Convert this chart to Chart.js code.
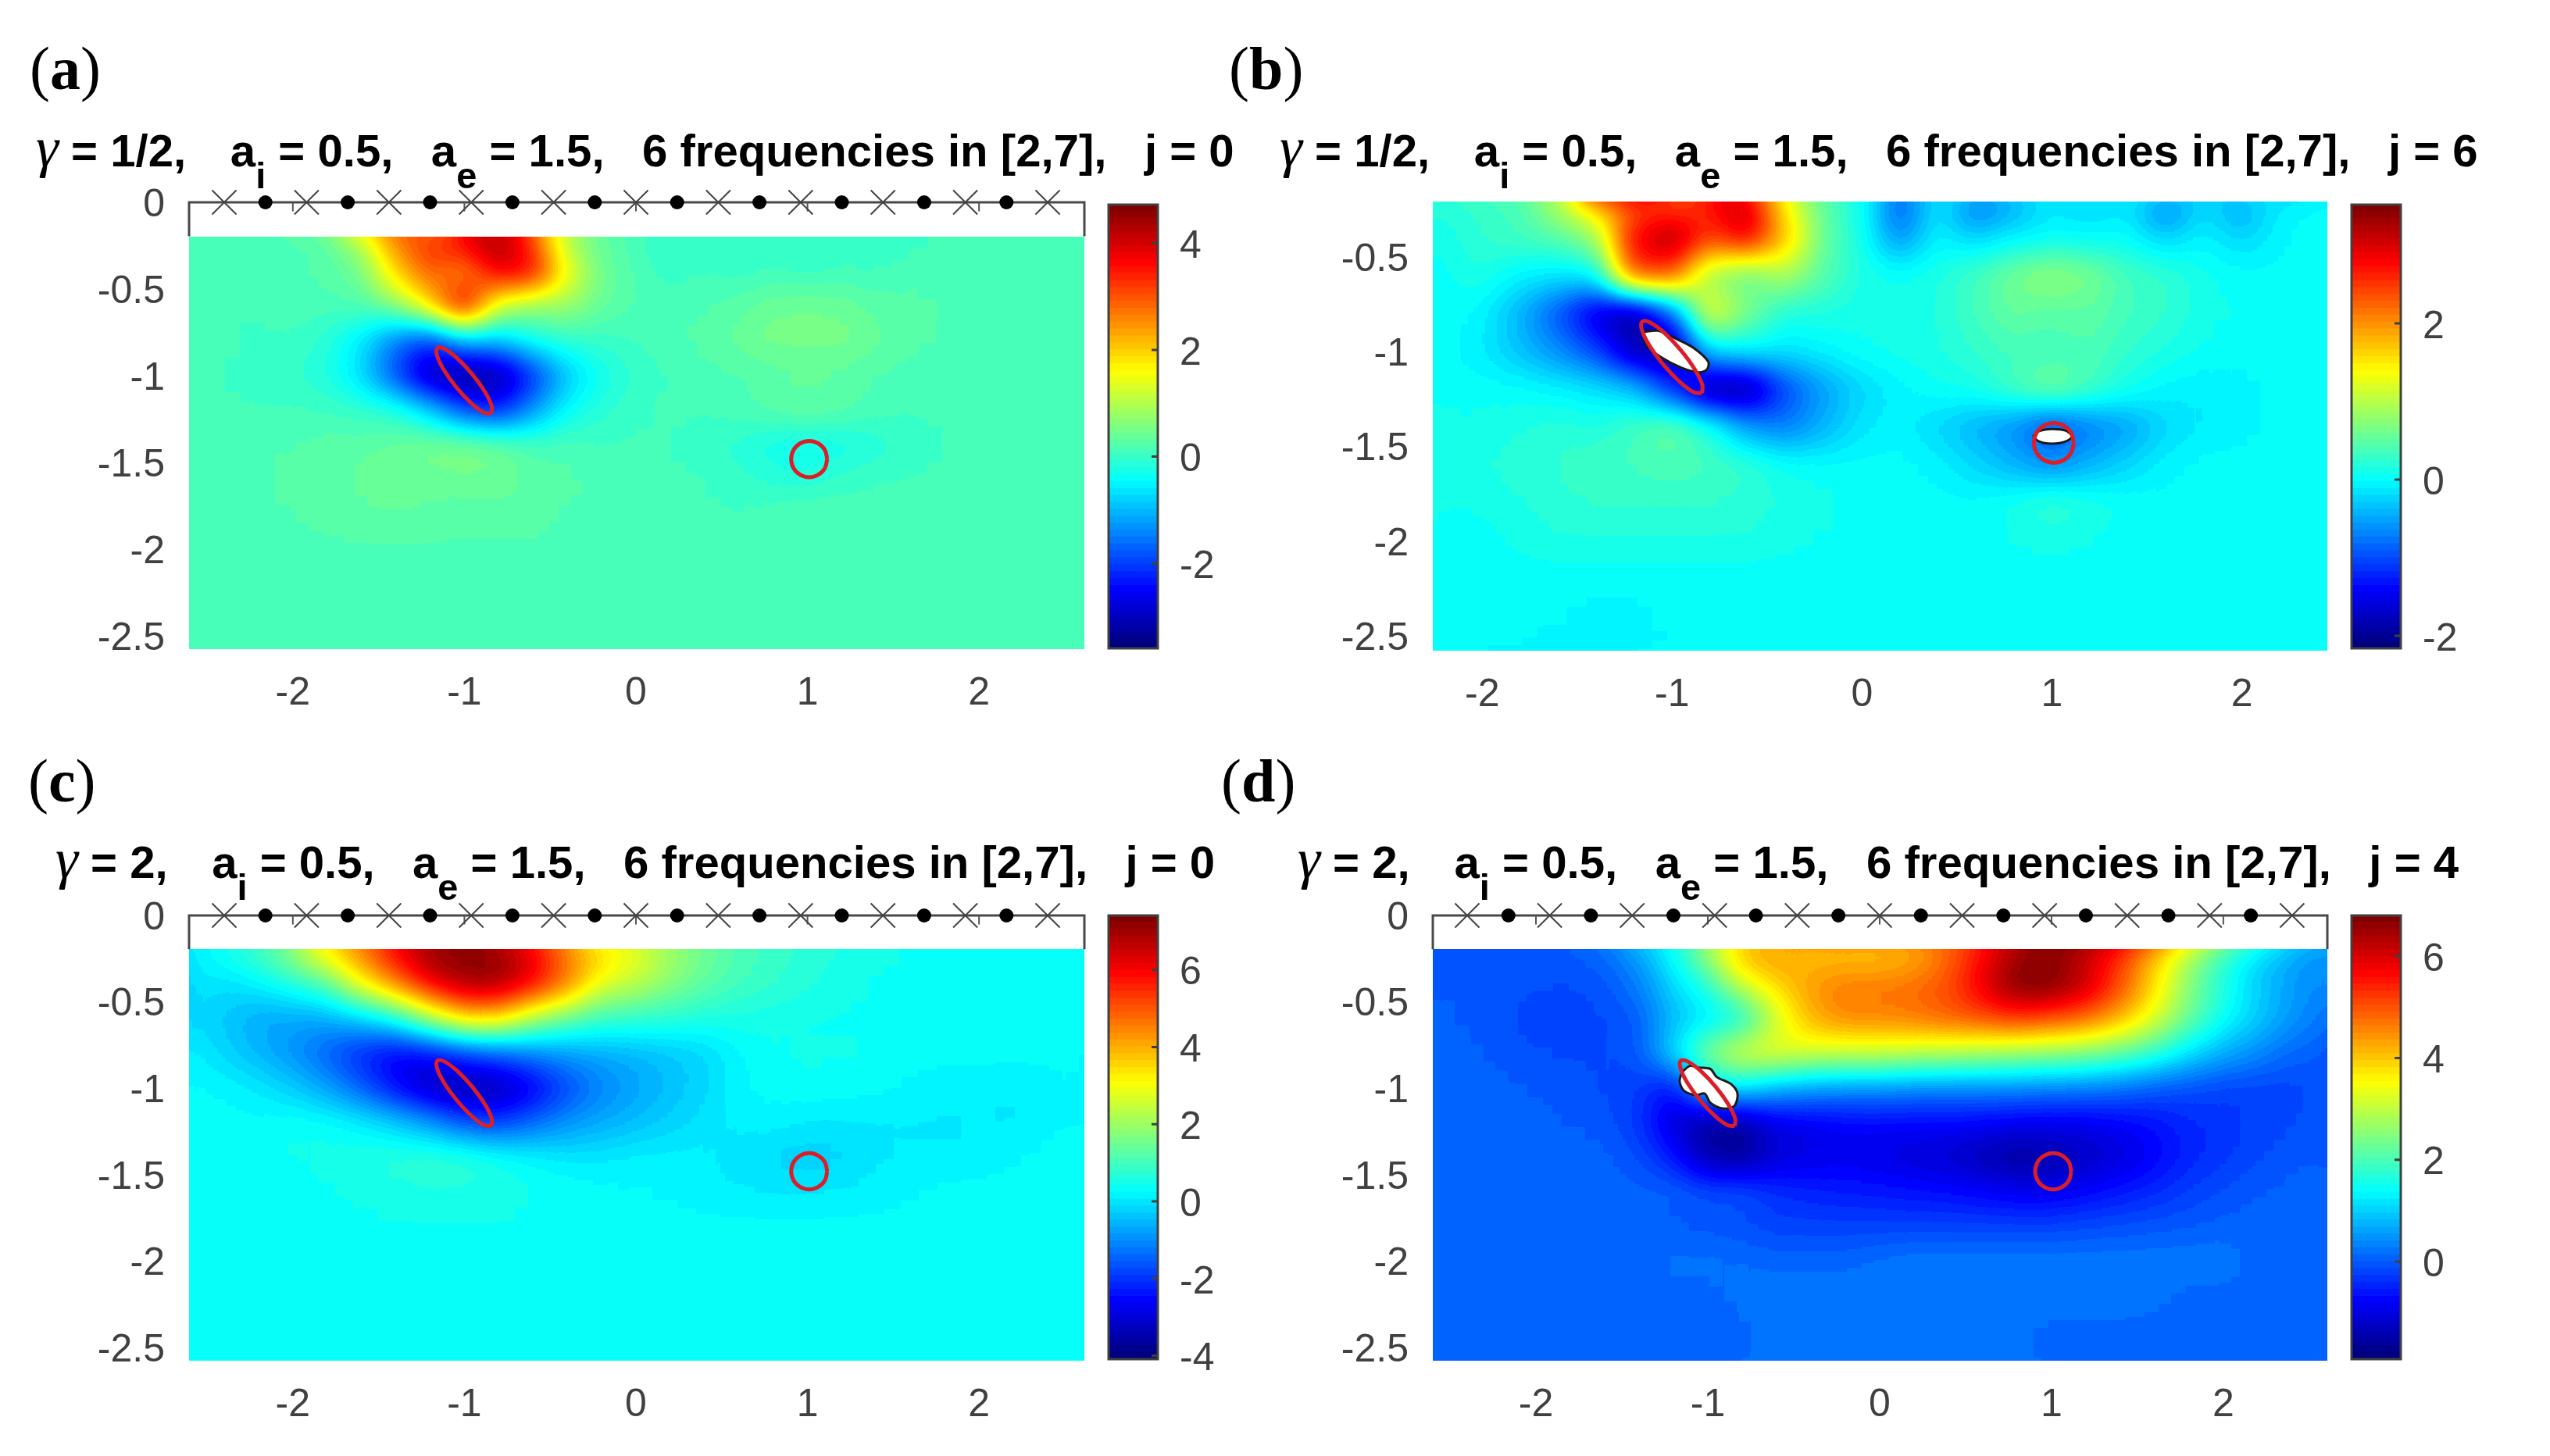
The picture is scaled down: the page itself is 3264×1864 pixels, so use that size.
<!DOCTYPE html>
<html><head><meta charset="utf-8">
<style>
html,body{margin:0;padding:0;background:#fff;width:3264px;height:1864px;overflow:hidden}
canvas{position:absolute;display:block}
.t{position:absolute;white-space:pre;font:bold 57px/60px "Liberation Sans",sans-serif;color:#000;transform-origin:0 0}
.t .g{font:normal 72px/60px "Liberation Serif",serif;font-style:italic}
.t .s{font-size:46px;position:relative;top:28px}
.t .k{margin-right:8px}
.l{position:absolute;font:78px/90px "Liberation Serif",serif;color:#000}
</style>
<script src="https://cdn.jsdelivr.net/npm/chart.js@4/dist/chart.umd.min.js"></script>
</head><body>
<script>
// ---------- cell centres ----------
const colsWide = [-2.6,-2.4,-2.2,-2,-1.8,-1.6,-1.4,-1.2,-1,-.8,-.6,-.4,-.2,0,.2,.4,.6,.8,1,1.2,1.4,1.6,1.8,2,2.2,2.4,2.6];
const colsB = [-2.2,-2,-1.8,-1.6,-1.4,-1.2,-1,-.8,-.6,-.4,-.2,0,.2,.4,.6,.8,1,1.2,1.4,1.6,1.8,2,2.2,2.4];
const rowsY = [-.2,-.4,-.6,-.8,-1,-1.2,-1.4,-1.6,-1.8,-2,-2.2,-2.4,-2.6];
// ---------- field values ----------
const heatA = [
[0,0,.05,.05,.1,.7,2.6,3.6,4.3,5.4,3,.5,.15,0,-.3,-.1,-.3,-.1,-.3,-.1,-.2,-.1,-.1,0,0,0,0],
[0,0,.05,.05,.15,.4,1.9,2.9,2.3,3.8,3.7,1.5,.4,.1,-.1,0,-.1,0,-.1,0,-.05,.05,.05,0,0,0,0],
[0,0,0,.05,.05,.1,.5,1.8,3.9,1.1,.6,.7,.3,.1,.05,.1,.2,.35,.4,.35,.2,.15,.1,.1,.05,0,0],
[0,0,-.05,-.05,-.2,-.7,-1.6,-2.2,-1.1,-1,-.4,-.15,-.1,0,.05,.15,.3,.45,.4,.45,.3,.15,.1,.05,0,0,0],
[0,0,-.1,-.15,-.25,-.8,-2,-3.3,-3.9,-3.5,-2.3,-1,-.4,-.15,0,.05,.1,.15,.25,.2,.1,.05,0,0,0,0,0],
[0,0,0,0,-.05,-.1,-.2,-.9,-2,-2.4,-1.4,-.5,-.2,-.05,0,0,.05,.2,.3,.2,.05,0,0,0,0,0,0],
[0,0,.05,.1,.2,.2,.3,.45,.5,.35,.05,.05,0,0,0,-.1,-.2,-.4,-.45,-.4,-.25,-.1,0,0,0,0,0],
[0,.05,.1,.2,.2,.3,.4,.3,.35,.4,.2,.15,.05,0,0,0,-.1,-.2,-.25,-.1,0,0,0,0,0,0,0],
[0,0,.05,.1,.2,.2,.25,.2,.15,.15,.15,.1,.05,0,0,0,0,.05,.15,.1,0,0,0,0,0,0,0],
[0,0,0,.05,.05,.1,.1,.1,.1,.1,.1,.05,.05,0,0,0,0,0,.05,0,0,0,0,0,0,0,0],
[0,0,0,0,0,0,0,0,0,0,0,0,0,0,0,0,0,0,0,0,0,0,0,0,0,0,0],
[0,0,0,0,0,0,0,0,0,0,0,0,0,0,0,0,0,0,0,0,0,0,0,0,0,0,0],
[0,0,0,0,0,0,0,0,0,0,0,0,0,0,0,0,0,0,0,0,0,0,0,0,0,0,0]];
const heatB = [
[.1,.2,.3,1,1.5,1.8,1.9,2.7,3.5,1.3,.5,0,-1.2,-.2,-1.2,-.8,-.3,-.5,-.3,-1.2,-.3,-.8,-.1,-.05],
[.05,.2,.3,.4,.8,2.8,3.3,2.4,2.8,1.7,.5,.05,-.7,-.1,-.3,-.1,-.05,-.05,-.05,-.3,-.1,-.3,-.1,0],
[0,.1,-.1,-.2,-.1,2.3,2.3,.8,.5,.9,.4,.1,0,.1,.3,.55,.75,.6,.3,.2,.05,-.05,-.05,-.05],
[0,-.1,-.5,-1,-1.7,-2.1,-1,1.3,.6,.1,.1,.05,.05,.1,.3,.5,.4,.45,.3,.2,.05,0,-.05,-.05],
[-.05,-.15,-.4,-.7,-1.1,-1.9,-2.1,-.3,-.1,-.2,-.1,0,.05,.1,.2,.3,.3,.35,.2,.1,0,-.05,-.05,-.05],
[0,-.03,-.05,-.1,-.2,-.4,-1.2,-2.1,-2.1,-1.1,-.6,-.3,-.1,0,.05,.3,.55,.3,.05,-.1,-.15,-.1,-.05,-.05],
[0,.05,.1,.15,.1,.3,.5,.1,-.6,-.8,-.5,-.2,-.1,-.3,-.5,-.7,-1.1,-.8,-.6,-.3,-.15,-.1,-.05,-.05],
[.05,.1,.15,.2,.3,.3,.35,.3,.2,0,-.05,-.05,-.05,-.1,-.3,-.5,-.7,-.5,-.3,-.1,-.05,-.05,-.05,-.05],
[0,.05,.1,.15,.2,.2,.2,.2,.15,.1,.05,0,-.05,-.05,-.05,.05,.2,.1,0,-.05,-.05,-.05,-.05,-.05],
[-.05,-.05,.05,.1,.1,.1,.1,.1,.1,.05,0,-.05,-.05,-.05,-.05,.02,.05,.02,-.05,-.05,-.05,-.05,-.05,-.05],
[-.05,-.05,-.05,-.05,-.05,-.05,-.05,-.05,-.05,-.05,-.05,-.05,-.05,-.05,-.05,-.05,-.05,-.05,-.05,-.05,-.05,-.05,-.05,-.05],
[-.05,-.05,-.05,-.07,-.1,-.1,-.05,-.05,-.05,-.05,-.05,-.05,-.05,-.05,-.05,-.05,-.05,-.05,-.05,-.05,-.05,-.05,-.05,-.05],
[-.1,-.1,-.1,-.1,-.1,-.1,-.1,-.1,-.1,-.1,-.1,-.1,-.1,-.1,-.1,-.1,-.1,-.1,-.1,-.1,-.1,-.1,-.1,-.1]];
const heatC = [
[0,.3,.9,2,3.5,4.6,6.2,7.4,7.41,7.4,6.4,4.6,3.9,3,2,1.3,.9,.6,.4,.3,.2,.1,.05,0,0,0,0],
[-.2,-.4,-.2,.3,.9,2.8,4.2,5.8,6.8,6.8,5.8,4.4,2.5,2.1,1.5,1,.7,.5,.35,.2,.1,.1,.05,0,0,0,0],
[-.3,-.7,-1,-1.1,-1,-.6,.2,1.8,3.3,3.3,1.9,1.1,.6,.5,.4,.3,.25,.2,.1,.1,.1,0,0,0,0,0,0],
[-.1,-.5,-.9,-1.3,-1.9,-2.6,-3.1,-2.9,-2.3,-1.9,-1.5,-1.2,-1,-.9,-.7,-.5,-.1,.1,.15,.15,.1,0,0,0,0,0,0],
[0,-.1,-.3,-.6,-1.1,-1.9,-2.9,-3.8,-4.09,-4,-3.2,-2.2,-1.5,-1.1,-.8,-.5,-.1,0,.1,.05,0,-.1,-.2,-.2,-.25,-.2,0],
[0,0,0,.1,.05,-.2,-.6,-1.2,-2.1,-2.3,-1.8,-1.3,-1,-.8,-.55,-.35,-.2,-.15,-.3,-.3,-.3,-.3,-.3,-.3,-.3,-.15,0],
[0,0,0,.15,.2,.3,.4,.5,.45,.15,-.1,-.3,-.3,-.2,-.2,-.2,-.35,-.5,-.6,-.5,-.3,-.25,-.25,-.2,-.1,0,0],
[0,0,0,0,.1,.2,.25,.3,.3,.3,.15,.1,0,-.05,-.1,-.2,-.25,-.3,-.3,-.25,-.2,-.1,0,0,0,0,0],
[0,0,0,0,0,.05,.1,.1,.1,.1,.05,0,0,0,0,0,0,0,0,0,0,0,0,0,0,0,0],
[0,0,0,0,0,0,0,0,0,0,0,0,0,0,0,0,0,0,0,0,0,0,0,0,0,0,0],
[0,0,0,0,0,0,0,0,0,0,0,0,0,0,0,0,0,0,0,0,0,0,0,0,0,0,0],
[0,0,0,0,0,0,0,0,0,0,0,0,0,0,0,0,0,0,0,0,0,0,0,0,0,0,0],
[0,0,0,0,0,0,0,0,0,0,0,0,0,0,0,0,0,0,0,0,0,0,0,0,0,0,0]];
const heatD = [
[-.05,-.1,-.1,-.05,-.05,0,.4,1.4,2.8,4.6,4.5,3.8,3.5,3.5,3.7,4.5,5.5,6.2,6.4,5.8,5,3.8,2.5,1.5,.9,.4,.1],
[-.05,-.1,-.15,-.2,-.25,-.15,.2,1,1.6,3,3.8,4.3,4.6,4.6,4.7,5,5.8,6.8,6.8,6.2,5.1,3.8,2.5,1.6,.9,.5,.2],
[-.05,-.1,-.2,-.3,-.3,-.25,-.1,.7,1.1,1.4,3,4.1,4.5,4.5,4.6,4.8,5,5.2,5,4.7,4.1,3.2,2.2,1.4,.9,.4,.1],
[0,-.05,-.15,-.2,-.25,-.25,-.15,1,2.4,3.2,3.3,3.1,3,3,2.9,2.8,2.7,2.6,2.5,2.4,2.1,1.7,1.1,.6,.3,0,-.05],
[0,0,-.05,-.1,-.15,-.25,-.35,-.8,1,1.2,.7,.5,.4,.4,.3,.3,.3,.3,.25,.2,.1,-.1,-.2,-.3,-.3,-.3,-.15],
[0,0,0,-.05,-.1,-.15,-.4,-1.2,-1.7,-1.7,-1.1,-1,-.9,-.85,-.85,-.85,-.9,-1,-1,-1,-.9,-.75,-.55,-.45,-.35,-.25,-.1],
[0,0,0,0,0,-.05,-.2,-.7,-1.6,-1.8,-1.2,-1.1,-1,-1.1,-1.2,-1.3,-1.5,-1.7,-1.6,-1.4,-1.2,-.9,-.6,-.4,-.25,-.15,-.05],
[0,0,0,0,0,-.05,-.05,-.05,-.2,-.2,-.5,-.6,-.65,-.7,-.75,-.8,-.9,-1,-1,-.85,-.7,-.55,-.35,-.2,-.1,-.05,0],
[0,0,0,0,0,0,0,-.1,-.15,-.2,-.3,-.3,-.3,-.3,-.3,-.3,-.3,-.3,-.3,-.25,-.2,-.15,-.1,-.05,0,0,0],
[0,0,0,0,0,0,0,.1,.1,.05,0,0,0,.1,.15,.15,.15,.15,.15,.15,.15,.15,.15,.15,0,0,0],
[0,0,0,0,0,0,0,0,0,.1,.15,.15,.15,.15,.15,.15,.15,.15,.15,.15,.15,.1,0,0,0,0,0],
[0,0,0,0,0,0,0,0,0,0,.15,.15,.15,.15,.15,.15,.15,.1,0,0,0,0,0,0,0,0,0],
[0,0,0,0,0,0,0,0,0,0,0,0,0,0,0,0,0,0,0,0,0,0,0,0,0,0,0]];
// ---------- colour ranges and tick labels ----------
const rangeA=[-3.59,4.72], rangeB=[-2.16,3.52], rangeC=[-4.09,7.41], rangeD=[-1.92,6.8];
const fieldRangeC=[-4.4,7.41];
const cbarTicksA=[-2,0,2,4], cbarTicksB=[-2,0,2], cbarTicksC=[-4,-2,0,2,4,6], cbarTicksD=[0,2,4,6];
const xTickValues=[-2,-1,0,1,2];
const yTicksFull=[0,-.5,-1,-1.5,-2,-2.5], yTicksB=[-.5,-1,-1.5,-2,-2.5];
const stripBottomValue=-.196;
// ---------- receivers, sources ----------
const crossX=[-2.4,-1.92,-1.44,-.96,-.48,0,.48,.96,1.44,1.92,2.4];
const dotX=[-2.16,-1.68,-1.2,-.72,-.24,.24,.72,1.2,1.68,2.16];
// ---------- inclusion outlines ----------
const ellipseX=[-.843,-.841,-.8815,-.954,-1.0385,-1.113,-1.157,-1.159,-1.1185,-1.046,-.9615,-.887,-.843];
const ellipseY=[-1.219,-1.175,-1.0915,-.992,-.9025,-.847,-.841,-.885,-.9685,-1.068,-1.1575,-1.213,-1.219];
const circleX=[1.115,1.101,1.062,1.01,.958,.919,.905,.919,.958,1.01,1.062,1.101,1.115];
const circleY=[-1.481,-1.428,-1.39,-1.376,-1.39,-1.428,-1.481,-1.534,-1.572,-1.586,-1.572,-1.534,-1.481];
// ---------- out-of-range (white) holes ----------
const holeB1X=[-1.155,-1.076,-.982,-.888,-.81,-.816,-.857,-.95,-1.06,-1.139,-1.155];
const holeB1Y=[-.897,-.889,-.93,-.979,-1.052,-1.093,-1.109,-1.085,-1.028,-.962,-.897];
const holeB2X=[.9,.93,.97,1,1.04,1.08,1.105,1.08,1.04,1,.96,.925,.9];
const holeB2Y=[-1.447,-1.42,-1.41,-1.408,-1.41,-1.42,-1.447,-1.47,-1.482,-1.485,-1.482,-1.47,-1.447];
const holeDX=[-1.151,-1.105,-1.053,-.984,-.949,-.862,-.827,-.845,-.914,-.984,-1.018,-1.071,-1.14,-1.164,-1.151];
const holeDY=[-.907,-.871,-.88,-.889,-.934,-.978,-1.031,-1.102,-1.117,-1.085,-1.031,-1.04,-1.013,-.96,-.907];

const textGray='#404040', levels=64, blurSigma=20;
const clamp=v=>Math.max(0,Math.min(1,v));
const jet=t=>[clamp(1.5-Math.abs(4*t-3)),clamp(1.5-Math.abs(4*t-2)),clamp(1.5-Math.abs(4*t-1))].map(v=>Math.round(v*255));
const lut=Array.from({length:levels},(_,i)=>jet(i/(levels-1)));
const pts=(xs,ys)=>xs.map((x,i)=>({x,y:ys[i]}));

// The cells are drawn as grey-coded scale positions; this turns them into the smooth filled field.
const fieldPlugin={id:'field',afterDatasetDraw(chart,args){
  if(args.index!==0)return;
  const a=chart.chartArea,o=chart.options.plugins.field,ctx=chart.ctx;
  const top=o.strip?Math.round(chart.scales.y.getPixelForValue(stripBottomValue)):a.top;
  const x0=Math.round(a.left),w=Math.round(a.width),h=Math.round(a.bottom)-top,m=80;
  const mk=()=>{const c=document.createElement('canvas');c.width=w+2*m;c.height=h+2*m;return c;};
  const s1=mk(),c1=s1.getContext('2d');
  c1.drawImage(chart.canvas,x0,top,w,h,0,0,w+2*m,h+2*m);
  c1.drawImage(chart.canvas,x0,top,w,h,m,m,w,h);
  const s2=mk(),c2=s2.getContext('2d',{willReadFrequently:true});
  c2.filter=`blur(${blurSigma}px)`;c2.drawImage(s1,0,0);
  const img=c2.getImageData(m,m,w,h),d=img.data;
  for(let i=0;i<d.length;i+=4){
    const l=Math.min(levels-1,Math.floor(d[i]/255*levels+.5)),c=lut[l];
    d[i]=c[0];d[i+1]=c[1];d[i+2]=c[2];d[i+3]=255;
  }
  ctx.putImageData(img,x0,top);
  if(top>a.top){ctx.fillStyle='#fff';ctx.fillRect(a.left,a.top,a.width,top-a.top);}
}};
const framePlugin={id:'frame',afterDatasetsDraw(chart){
  const a=chart.chartArea,ctx=chart.ctx,y=chart.scales.y;
  ctx.save();ctx.strokeStyle=textGray;ctx.lineWidth=3;
  ctx.strokeRect(a.left,a.top,a.width,a.height);
  ctx.beginPath();
  y.ticks.forEach(t=>{const p=y.getPixelForValue(t.value);ctx.moveTo(a.right,p);ctx.lineTo(a.right-8,p);});
  ctx.stroke();ctx.restore();
}};

function place(w,h,l,t){const c=document.createElement('canvas');c.width=w;c.height=h;c.style.left=l+'px';c.style.top=t+'px';document.body.appendChild(c);return c;}
const tickFont={family:'"Liberation Sans",sans-serif',size:50};

function heatPanel(p){
  const L=210,T=80,R=30,B=110,W=p.right-p.left,H=p.bottom-p.top;
  const canvas=place(W+L+R,H+T+B,p.left-L,p.top-T);
  const cells=[];
  rowsY.forEach((y,r)=>p.cols.forEach((x,c)=>cells.push({x,y,v:p.heat[r][c]})));
  const fr=p.fieldRange||p.range;
  const gray=v=>{const g=Math.round(clamp((v-fr[0])/(fr[1]-fr[0]))*255);return `rgb(${g},${g},${g})`;};
  const ds=[{label:'field',data:cells,order:20,pointStyle:'rect',borderWidth:0,pointBorderWidth:0,
    pointBackgroundColor:c=>gray(c.raw?c.raw.v:0),
    pointRadius:c=>{const s=c.chart.scales.x;return (Math.abs(s.getPixelForValue(.2)-s.getPixelForValue(0))/2+1)*Math.SQRT2;}}];
  (p.holes||[]).forEach(h=>ds.push({label:'hole',data:pts(h[0],h[1]),showLine:true,fill:'shape',backgroundColor:'#fff',borderColor:'#1a1a1a',borderWidth:3,tension:.3,pointRadius:0,order:9}));
  ds.push({label:'ellipse',data:pts(ellipseX,ellipseY),showLine:true,borderColor:'#dc1e28',borderWidth:5,tension:.4,pointRadius:0,order:5});
  ds.push({label:'circle',data:pts(circleX,circleY),showLine:true,borderColor:'#dc1e28',borderWidth:5,tension:.4,pointRadius:0,order:5});
  if(p.strip){
    ds.push({label:'box',data:[{x:p.xMin,y:stripBottomValue},{x:p.xMin,y:0},{x:p.xMax,y:0},{x:p.xMax,y:stripBottomValue}],showLine:true,borderColor:'#484848',borderWidth:3,pointRadius:0,clip:false,order:4});
    ds.push({label:'ticks',data:xTickValues.map(x=>({x,y:-.025})),pointStyle:'line',pointRotation:90,pointRadius:6,pointBorderColor:'#555',pointBorderWidth:2,showLine:false,order:3});
    ds.push({label:'crosses',data:crossX.map(x=>({x,y:0})),pointStyle:'crossRot',pointRadius:22,pointBorderColor:'#444',pointBorderWidth:2,showLine:false,clip:false,order:2});
    ds.push({label:'dots',data:dotX.map(x=>({x,y:0})),pointStyle:'circle',pointRadius:9,pointBackgroundColor:'#000',pointBorderColor:'#000',pointBorderWidth:0,showLine:false,clip:false,order:1});
  }
  new Chart(canvas,{type:'scatter',data:{datasets:ds},plugins:[fieldPlugin],options:{
    responsive:false,animation:false,devicePixelRatio:1,events:[],
    layout:{padding:{left:0,top:T,right:R,bottom:0}},
    plugins:{legend:{display:false},tooltip:{enabled:false},title:{display:false},field:{strip:p.strip}},
    scales:{
      x:{type:'linear',min:p.xMin,max:p.xMax,grid:{display:false},border:{display:false},
        afterFit:s=>{s.height=B;},afterBuildTicks:s=>{s.ticks=xTickValues.map(value=>({value}));},
        ticks:{font:tickFont,color:textGray,padding:19,autoSkip:false,maxRotation:0,callback:v=>String(v)}},
      y:{type:'linear',min:p.yMin,max:p.yMax,grid:{display:false},border:{display:false},
        afterFit:s=>{s.width=L;},afterBuildTicks:s=>{s.ticks=p.yTicks.map(value=>({value}));},
        ticks:{font:tickFont,color:textGray,padding:23,labelOffset:4,autoSkip:false,callback:v=>String(v)}}
    }}});
}
function colorbar(p){
  const L=10,T=70,R=130,B=70,W=p.right-p.left,H=p.bottom-p.top;
  const canvas=place(L+W+R,T+H+B,p.left-L,p.top-T);
  const [lo,hi]=p.range,step=(hi-lo)/levels;
  const ds=lut.map((c,i)=>({data:[[lo+i*step,lo+(i+1)*step+(i<levels-1?step*.1:0)]],backgroundColor:`rgb(${c[0]},${c[1]},${c[2]})`,borderWidth:0,barPercentage:1,categoryPercentage:1,grouped:false}));
  new Chart(canvas,{type:'bar',data:{labels:['colour'],datasets:ds},plugins:[framePlugin],options:{
    responsive:false,animation:false,devicePixelRatio:1,events:[],
    layout:{padding:{left:L,top:T,right:0,bottom:B}},
    plugins:{legend:{display:false},tooltip:{enabled:false}},
    scales:{
      x:{display:false},
      y:{position:'right',min:lo,max:hi,grid:{display:false},border:{display:false},
        afterFit:s=>{s.width=R;},afterBuildTicks:s=>{s.ticks=p.ticks.map(value=>({value}));},
        ticks:{font:tickFont,color:textGray,padding:20,labelOffset:5,callback:v=>String(v)}}
    }}});
}
function text(cls,html,left,top,target){
  const e=document.createElement('div');e.className=cls;e.innerHTML=html;e.style.left=left+'px';e.style.top=top+'px';
  document.body.appendChild(e);
  if(target)e.style.transform=`scaleX(${target/e.offsetWidth})`;
}
const titleHtml=(g,j)=>`<span class="g">γ</span> = <span class="k">${g},</span>   a<span class="s">i</span> = 0.5,   a<span class="s">e</span> = 1.5,   6 frequencies in [2,7],   j = ${j}`;

heatPanel({left:242,right:1388,top:259,bottom:831,xMin:-2.605,xMax:2.614,yMin:-2.577,yMax:0,cols:colsWide,heat:heatA,range:rangeA,strip:true,yTicks:yTicksFull});
heatPanel({left:1834,right:2979,top:258,bottom:833,xMin:-2.26,xMax:2.45,yMin:-2.578,yMax:-.207,cols:colsB,heat:heatB,range:rangeB,strip:false,yTicks:yTicksB,holes:[[holeB1X,holeB1Y],[holeB2X,holeB2Y]]});
heatPanel({left:242,right:1388,top:1172,bottom:1742,xMin:-2.605,xMax:2.614,yMin:-2.577,yMax:0,cols:colsWide,heat:heatC,range:rangeC,fieldRange:fieldRangeC,strip:true,yTicks:yTicksFull});
heatPanel({left:1834,right:2979,top:1172,bottom:1742,xMin:-2.6,xMax:2.605,yMin:-2.577,yMax:0,cols:colsWide,heat:heatD,range:rangeD,strip:true,yTicks:yTicksFull,holes:[[holeDX,holeDY]]});
colorbar({left:1419,right:1482,top:262,bottom:830,range:rangeA,ticks:cbarTicksA});
colorbar({left:3010,right:3073,top:262,bottom:830,range:rangeB,ticks:cbarTicksB});
colorbar({left:1419,right:1482,top:1172,bottom:1740,range:rangeC,ticks:cbarTicksC});
colorbar({left:3010,right:3073,top:1172,bottom:1740,range:rangeD,ticks:cbarTicksD});

text('t',titleHtml('1/2','0'),46,159,1534);
text('t',titleHtml('1/2','6'),1638,159,1534);
text('t',titleHtml('2','0'),71,1070,1484);
text('t',titleHtml('2','4'),1661,1070,1486);
text('l','(<b>a</b>)',38,43);
text('l','(<b>b</b>)',1573,43);
text('l','(<b>c</b>)',36,955);
text('l','(<b>d</b>)',1563,955);
</script>
</body></html>
